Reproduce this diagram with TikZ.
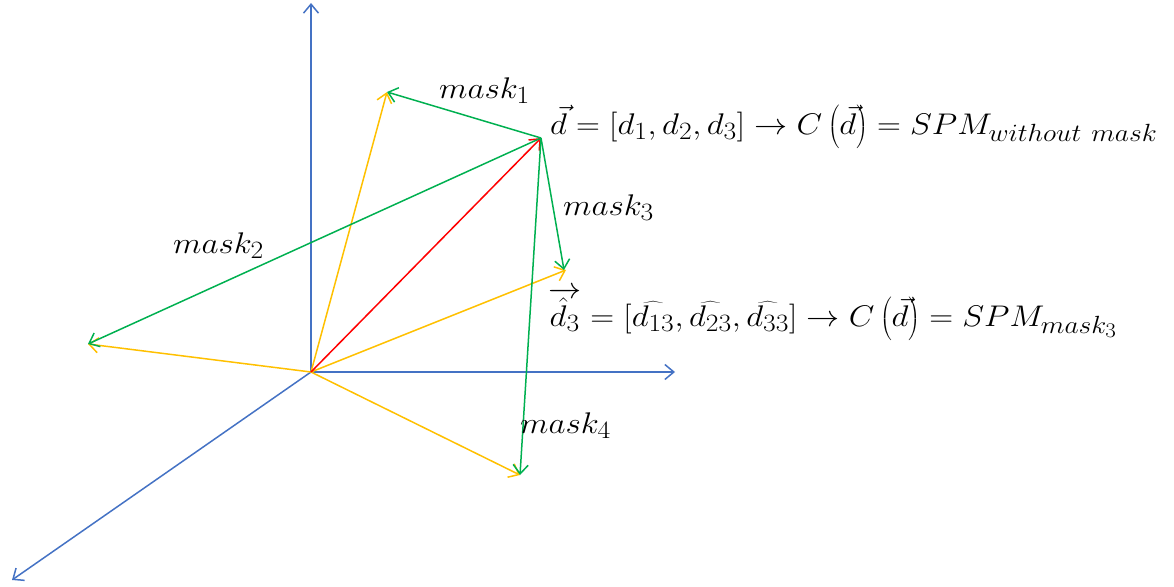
\documentclass[tikz,border=0pt]{standalone}
\usetikzlibrary{arrows.meta}
\definecolor{axisblue}{RGB}{68,114,196}
\definecolor{vgreen}{RGB}{0,176,80}
\definecolor{vyellow}{RGB}{255,192,0}
\definecolor{vred}{RGB}{255,0,0}
\newcommand{\wide}[1]{\scalebox{1.33}[1.2]{#1}}
\begin{document}
\begin{tikzpicture}[x=1pt,y=-1pt,
  tip/.style={-{Straight Barb[length=9pt,width=15pt,line width=1.5pt]}},
  axisline/.style={tip,draw=axisblue,line width=1.5pt},
  gline/.style={tip,draw=vgreen,line width=1.5pt},
  yline/.style={tip,draw=vyellow,line width=1.5pt},
  rline/.style={tip,draw=vred,line width=1.5pt},
  lab/.style={anchor=base west,inner sep=0pt,font=\fontsize{24.88}{30}\selectfont}]
\useasboundingbox (0,0) rectangle (1174,586);
\coordinate (O) at (311,372);
\coordinate (ytop) at (311,3);
\coordinate (xend) at (675,372);
\coordinate (zend) at (12,580);
\coordinate (D) at (541,138);
\coordinate (m1) at (387,92);
\coordinate (m2) at (88,344);
\coordinate (m3y) at (566,270);
\coordinate (m3g) at (564,270);
\coordinate (m4) at (520,475);
\draw[axisline] (O) -- (ytop);
\draw[axisline] (O) -- (xend);
\draw[axisline] (O) -- (zend);
\draw[yline] (O) -- (m1);
\draw[yline] (O) -- (m2);
\draw[yline] (O) -- (m3y);
\draw[yline] (O) -- (m4);
\draw[rline] (O) -- (D);
\draw[gline] (D) -- (m1);
\draw[gline] (D) -- (m2);
\draw[gline] (D) -- (m3g);
\draw[gline] (D) -- (m4);
\node[lab] (l1) at (439,98) {\wide{$mask_1$}};
\node[lab] (l2) at (173,253) {\wide{$mask_2$}};
\node[lab] (l3) at (563,215) {\wide{$mask_3$}};
\node[lab] (l4) at (520,433) {\wide{$mask_4$}};
\node[lab] (eq1) at (550,134) {\wide{$\vec{d}=[d_1,d_2,d_3]\rightarrow C\left(\vec{d}\right)=SPM_{without\ mask}$}};
\node[lab] (eq2) at (548,326) {\wide{$\overrightarrow{\hat{d}_3}=\Bigl[\widehat{d_{13}},\widehat{d_{23}},\widehat{d_{33}}\Bigr]\rightarrow C\left(\vec{d}\right)=SPM_{mask_3}$}};
\end{tikzpicture}
\end{document}
